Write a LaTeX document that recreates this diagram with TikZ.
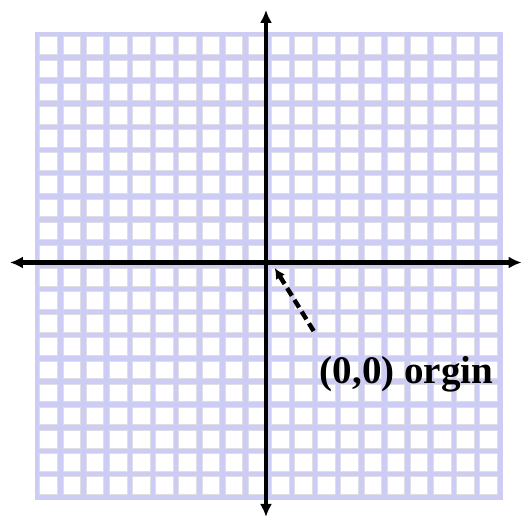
\documentclass[tikz,border=0pt]{standalone}
\usepackage{fontspec}
\setmainfont{Liberation Serif}
\definecolor{gridlav}{RGB}{204,204,245}
\definecolor{cellgray}{RGB}{222,222,228}
\usetikzlibrary{arrows.meta,positioning}

\begin{document}
\begin{tikzpicture}[x=1cm,y=1cm,
    axis/.style={line width=5.8pt,{Latex[length=16pt,width=15pt]}-{Latex[length=16pt,width=15pt]}},
    cell/.style={fill=white,draw=cellgray,line width=0.8pt}]
  \useasboundingbox (-11.6,-10.86) rectangle (10.95,11.47);
  % lavender grid
  \fill[gridlav] (-10.108,-10.108) rectangle (10.108,10.108);
  \foreach \i in {-10,...,9}
    \foreach \j in {-10,...,9}
      \draw[cell] (\i+0.12,\j+0.12) rectangle ++(0.76,0.76);
  % axes
  \coordinate (west) at (-11.17,0.13);
  \coordinate (east) at (10.93,0.13);
  \coordinate (north) at (-0.11,11.04);
  \coordinate (south) at (-0.11,-10.86);
  \draw[axis] (west) -- (east);
  \draw[axis] (south) -- (north);
  % origin label
  \node[font=\bfseries\fontsize{48}{56}\selectfont,anchor=base]
        (lbl) at (5.96,-5.08) {(0,0) orgin};
  \coordinate (tail) at (1.95,-2.83);
  \coordinate (tip) at (0.27,-0.11);
  \draw[line width=5.5pt,dash pattern=on 11pt off 6pt,
        -{Latex[length=13pt,width=13pt]}] (tail) -- (tip);
\end{tikzpicture}
\end{document}
